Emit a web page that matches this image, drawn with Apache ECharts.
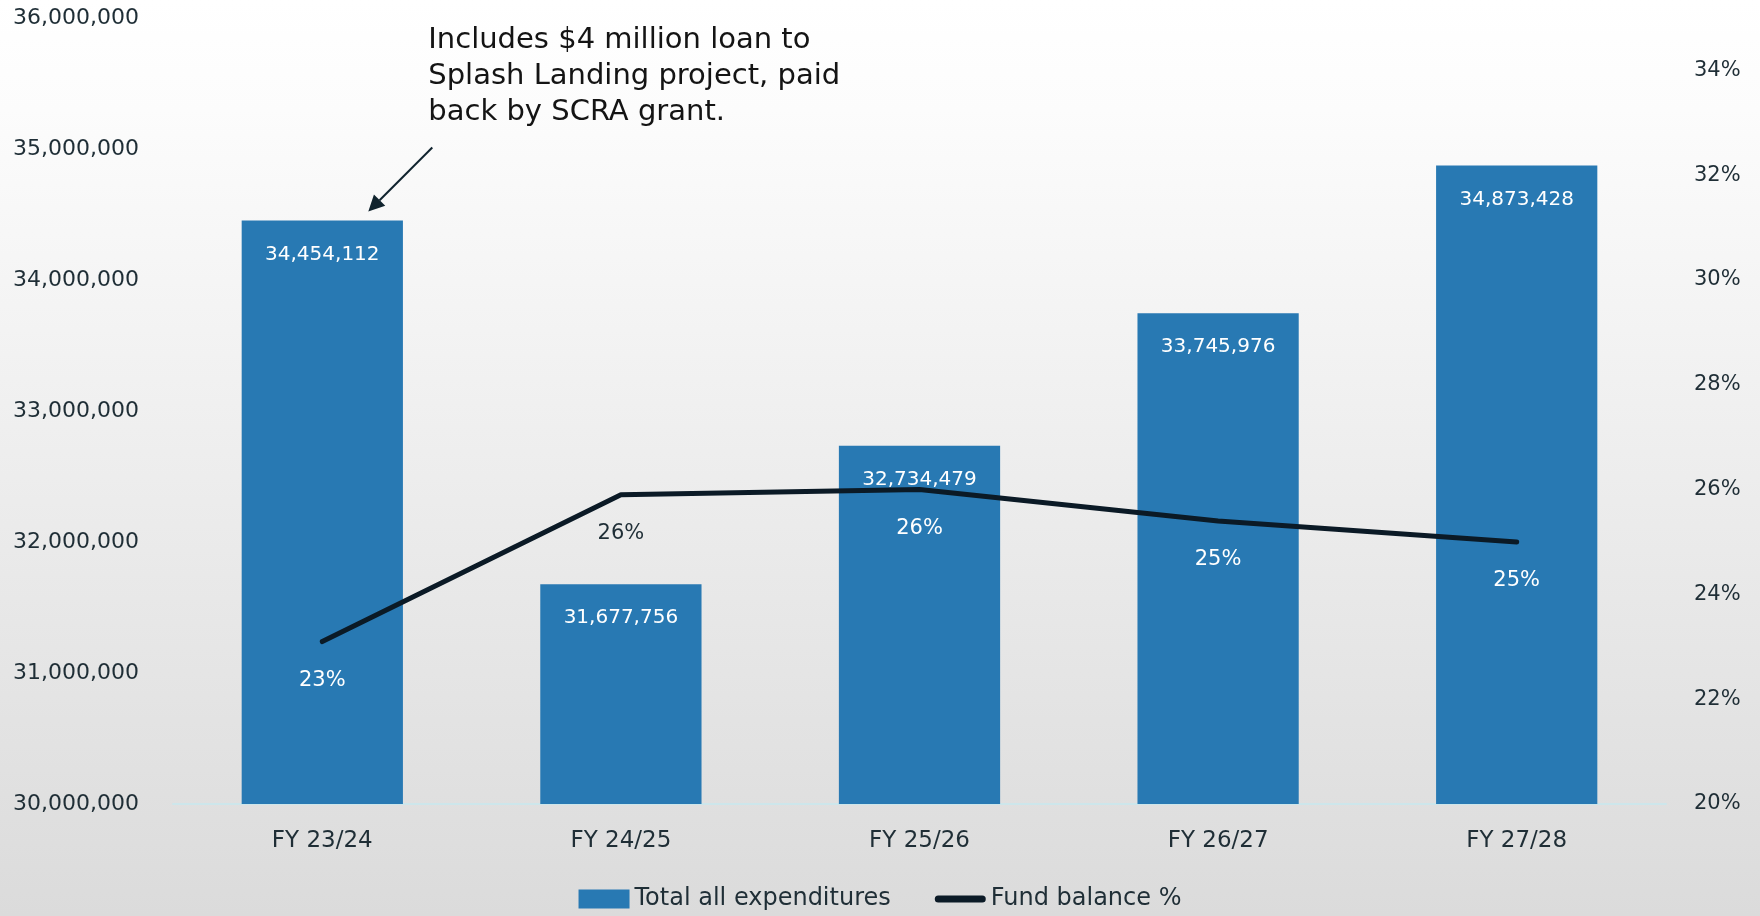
<!DOCTYPE html>
<html>
<head>
<meta charset="utf-8">
<title>Expenditures and Fund Balance</title>
<script src="https://cdn.jsdelivr.net/npm/echarts@6/dist/echarts.min.js"></script>
<style>
  html, body { margin: 0; padding: 0; width: 1760px; height: 916px; overflow: hidden; }
  #chart { width: 1760px; height: 916px; }
</style>
</head>
<body>
<div id="chart"></div>
<script>
// Fiscal years shown on the category axis
const fiscalYears = ['FY 23/24', 'FY 24/25', 'FY 25/26', 'FY 26/27', 'FY 27/28'];
// Total all expenditures per year (dollars)
const totalExpenditures = [34454112, 31677756, 32734479, 33745976, 34873428];
// Fund balance as a percent of expenditures
const fundBalancePct = [23.1, 25.9, 26.0, 25.4, 25.0];
// Left axis range and step (dollars)
const leftAxisMin = 30000000;
const leftAxisMax = 36000000;
const leftAxisStep = 1000000;
// Right axis range and step (percent)
const rightAxisMin = 20;
const rightAxisMax = 35;
const rightAxisStep = 2;
// Callout text for the first year
const calloutLines = ['Includes $4 million loan to', 'Splash Landing project, paid', 'back by SCRA grant.'];

const FONT = '"DejaVu Sans", sans-serif';
const INK = '#1f2e36';
const BAR = '#2879b3';
const LINE = '#0b1a26';

const fmtNum = v => Math.round(v).toLocaleString('en-US');

const chart = echarts.init(document.getElementById('chart'), null, { renderer: 'canvas' });

// Percent labels: white where they sit on a bar, dark where they sit on the background
const pctLabelData = fundBalancePct.map((v, i) => {
  const onBackground = (v - rightAxisMin) / (rightAxisMax - rightAxisMin) >
    (totalExpenditures[i] - leftAxisMin) / (leftAxisMax - leftAxisMin);
  return { value: v, label: { color: onBackground ? INK : '#ffffff' } };
});

chart.setOption({
  backgroundColor: new echarts.graphic.LinearGradient(0, 0, 0, 1, [
    { offset: 0, color: '#ffffff' },
    { offset: 0.12, color: '#fcfcfc' },
    { offset: 1, color: '#dbdbdb' }
  ]),
  textStyle: { fontFamily: FONT },
  animation: false,
  grid: { left: 173, right: 94, top: 18, bottom: 112 },
  legend: {
    bottom: 0,
    left: 'center',
    itemWidth: 51,
    itemHeight: 19,
    itemGap: 44,
    symbolKeepAspect: true,
    textStyle: { fontFamily: FONT, fontSize: 24, color: INK },
    data: [
      { name: 'Total all expenditures', icon: 'rect' },
      {
        name: 'Fund balance %',
        icon: 'path://M3.5,0 L47.5,0 A3.5,3.5 0 0 1 47.5,7 L3.5,7 A3.5,3.5 0 0 1 3.5,0 Z',
        itemStyle: { color: LINE }
      }
    ]
  },
  xAxis: {
    type: 'category',
    data: fiscalYears,
    axisTick: { show: false },
    axisLine: { lineStyle: { color: '#cde6eb', width: 2 } },
    axisLabel: { color: INK, fontSize: 23, margin: 26, fontFamily: FONT }
  },
  yAxis: [
    {
      type: 'value',
      min: leftAxisMin,
      max: leftAxisMax,
      interval: leftAxisStep,
      splitLine: { show: false },
      axisLine: { show: false },
      axisTick: { show: false },
      axisLabel: { color: INK, fontSize: 22, margin: 34, fontFamily: FONT, formatter: fmtNum }
    },
    {
      type: 'value',
      min: rightAxisMin,
      max: rightAxisMax,
      interval: rightAxisStep,
      position: 'right',
      splitLine: { show: false },
      axisLine: { show: false },
      axisTick: { show: false },
      axisLabel: { color: INK, fontSize: 21, margin: 28, fontFamily: FONT, showMaxLabel: false,
        formatter: v => v + '%' }
    }
  ],
  series: [
    {
      name: 'Total all expenditures',
      type: 'bar',
      data: totalExpenditures,
      barWidth: '54%',
      itemStyle: { color: BAR },
      label: {
        show: true,
        position: 'insideTop',
        distance: 24,
        color: '#ffffff',
        fontSize: 20,
        fontFamily: FONT,
        formatter: p => fmtNum(p.value)
      },
      z: 2
    },
    {
      name: 'Fund balance %',
      type: 'line',
      yAxisIndex: 1,
      data: fundBalancePct,
      symbol: 'none',
      lineStyle: { color: LINE, width: 5, cap: 'round', join: 'round' },
      itemStyle: { color: LINE },
      z: 3
    },
    {
      // value labels under each fund balance point
      name: 'Fund balance labels',
      type: 'scatter',
      yAxisIndex: 1,
      data: pctLabelData,
      symbolSize: 1,
      itemStyle: { color: 'rgba(0,0,0,0)', opacity: 1 },
      silent: true,
      label: {
        show: true,
        position: 'bottom',
        distance: 28,
        fontSize: 21,
        opacity: 1,
        fontFamily: FONT,
        formatter: p => Math.round(p.value) + '%'
      },
      z: 4
    }
  ]
});

// Callout: arrow pointing at the first bar's top, with its note above
const tip0 = chart.convertToPixel({ xAxisIndex: 0, yAxisIndex: 0 }, [fiscalYears[0], totalExpenditures[0]]);
const tip = [tip0[0] + 46, tip0[1] - 9];
const tail = [tip[0] + 64, tip[1] - 64];
const ang = Math.atan2(tip[1] - tail[1], tip[0] - tail[0]);
const headLen = 16, headHalf = 8;
const back = [tip[0] - headLen * Math.cos(ang), tip[1] - headLen * Math.sin(ang)];
const nx = -Math.sin(ang), ny = Math.cos(ang);

chart.setOption({
  graphic: [
    {
      type: 'line',
      shape: { x1: tail[0], y1: tail[1], x2: back[0], y2: back[1] },
      style: { stroke: '#10232e', lineWidth: 2 },
      z: 10
    },
    {
      type: 'polygon',
      shape: { points: [tip, [back[0] + nx * headHalf, back[1] + ny * headHalf], [back[0] - nx * headHalf, back[1] - ny * headHalf]] },
      style: { fill: '#10232e' },
      z: 10
    },
    {
      type: 'text',
      x: tail[0] - 4,
      y: tail[1] - 125,
      style: {
        text: calloutLines.join('\n'),
        font: '29px "DejaVu Sans", sans-serif',
        lineHeight: 36,
        fill: '#141414',
        align: 'left',
        verticalAlign: 'top'
      },
      z: 10
    }
  ]
});
</script>
</body>
</html>
